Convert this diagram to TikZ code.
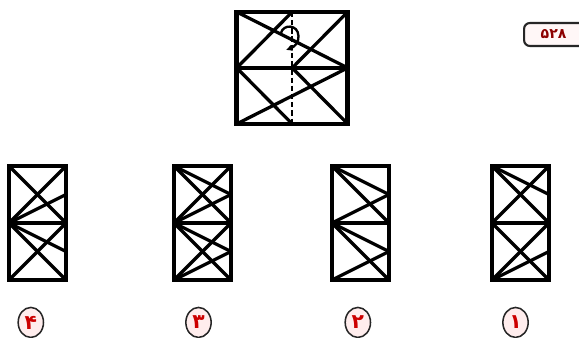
\documentclass[tikz,border=0pt]{standalone}
\usepackage{fontspec}
\newfontfamily\farsifont[Script=Arabic]{DejaVu Sans}
\usetikzlibrary{positioning, calc, arrows.meta, shapes.geometric}

\begin{document}
\begin{tikzpicture}[
					x=0.03cm, y=-0.03cm,
					>=Latex,
					% Define styles for the sheets
					sheet/.style={
						draw=black, 
						line width=3.8pt, 
						minimum width=3.33cm, 
						minimum height=3.36cm,
						inner sep=0pt,
						outer sep=0pt
					},
					panel/.style={
						draw=black, 
						line width=3.8pt, 
						minimum width=1.71cm, 
						minimum height=3.42cm,
						inner sep=0pt,
						outer sep=0pt
					},
					crease/.style={
						line width=2.8pt, 
						line cap=round
					},
					midline/.style={
						line width=3.6pt
					},
					choice/.style={
						ellipse, 
						draw=black!85, 
						fill=red!7, 
						line width=1.3pt, 
						inner sep=0pt, 
						minimum width=0.76cm,
						minimum height=0.9cm,
						font=\farsifont\LARGE\bfseries,
						text=red!80!black
					},
					tag/.style={
						draw=black!85, 
						fill=red!3, 
						line width=1.8pt, 
						rounded corners=5pt,
						minimum height=0.69cm,
						inner xsep=0.5cm,
						text width=1.3cm,
						align=left,
						font=\farsifont\large\bfseries,
						text=red!55!black
					}
					]
					
					\useasboundingbox (0,0) rectangle (579,338);
					
					% --- 1. PAGE NUMBER ---
					\node[tag, anchor=west] (page_no) at (523,34.5) {۵۲۸};
					
					% --- 2. FOLDED SHEET ---
					\node[sheet] (sheet) at (292.2,67.9) {};
					\draw[midline] (sheet.west) -- (sheet.east);
					% upper half
					\draw[crease] (sheet.west) -- (sheet.north);
					\draw[crease] (sheet.center) -- (sheet.north east);
					\draw[crease] (sheet.north west) -- (sheet.east);
					% lower half
					\draw[crease] (sheet.west) -- (sheet.south);
					\draw[crease] (sheet.center) -- (sheet.south east);
					\draw[crease] (sheet.south west) -- (sheet.east);
					% fold line and fold arrow
					\draw[line width=1.6pt, dash pattern=on 4.5pt off 2.5pt] (sheet.north) -- (sheet.south);
					\draw[line width=2pt, arrows={-Latex[length=1.8mm, width=2mm]}] 
					(281,33) .. controls (283,24) and (298,24) .. (298.5,36) 
					.. controls (299,43) and (294,47) .. (286,50);
					
					% --- 3. ANSWER PANELS ---
					\node[panel] (opt4) at (37.5,223) {};
					\node[panel, right=3.24cm of opt4] (opt3) {};
					\node[panel, right=3.03cm of opt3] (opt2) {};
					\node[panel, right=3.09cm of opt2] (opt1) {};
					
					% Panel 4
					\draw[midline] (opt4.west) -- (opt4.east);
					\draw[crease] (opt4.north west) -- (opt4.east);
					\draw[crease] (opt4.west) -- (opt4.north east);
					\draw[crease] (opt4.west) -- ($(opt4.north east)!0.5!(opt4.east)$);
					\draw[crease] (opt4.west) -- (opt4.south east);
					\draw[crease] (opt4.south west) -- (opt4.east);
					\draw[crease] (opt4.west) -- ($(opt4.east)!0.5!(opt4.south east)$);
					
					% Panel 3
					\draw[midline] (opt3.west) -- (opt3.east);
					\draw[crease] (opt3.north west) -- (opt3.east);
					\draw[crease] (opt3.west) -- (opt3.north east);
					\draw[crease] (opt3.north west) -- ($(opt3.north east)!0.5!(opt3.east)$);
					\draw[crease] (opt3.west) -- ($(opt3.north east)!0.5!(opt3.east)$);
					\draw[crease] (opt3.west) -- (opt3.south east);
					\draw[crease] (opt3.south west) -- (opt3.east);
					\draw[crease] (opt3.west) -- ($(opt3.east)!0.5!(opt3.south east)$);
					\draw[crease] (opt3.south west) -- ($(opt3.east)!0.5!(opt3.south east)$);
					
					% Panel 2
					\draw[midline] (opt2.west) -- (opt2.east);
					\draw[crease] (opt2.north west) -- (opt2.east);
					\draw[crease] (opt2.north west) -- ($(opt2.north east)!0.5!(opt2.east)$);
					\draw[crease] (opt2.west) -- ($(opt2.north east)!0.5!(opt2.east)$);
					\draw[crease] (opt2.west) -- (opt2.south east);
					\draw[crease] (opt2.west) -- ($(opt2.east)!0.5!(opt2.south east)$);
					\draw[crease] (opt2.south west) -- ($(opt2.east)!0.5!(opt2.south east)$);
					
					% Panel 1
					\draw[midline] (opt1.west) -- (opt1.east);
					\draw[crease] (opt1.north west) -- (opt1.east);
					\draw[crease] (opt1.west) -- (opt1.north east);
					\draw[crease] (opt1.north west) -- ($(opt1.north east)!0.5!(opt1.east)$);
					\draw[crease] (opt1.west) -- (opt1.south east);
					\draw[crease] (opt1.south west) -- (opt1.east);
					\draw[crease] (opt1.south west) -- ($(opt1.east)!0.5!(opt1.south east)$);
					
					% --- 4. CHOICE NUMBERS ---
					\node[choice, below=0.8cm of opt4, xshift=-0.2cm] (lab4) {۴};
					\node[choice, below=0.8cm of opt3, xshift=-0.12cm] (lab3) {۳};
					\node[choice, below=0.8cm of opt2, xshift=-0.08cm] (lab2) {۲};
					\node[choice, below=0.8cm of opt1, xshift=-0.15cm] (lab1) {۱};
					
				\end{tikzpicture}
\end{document}
